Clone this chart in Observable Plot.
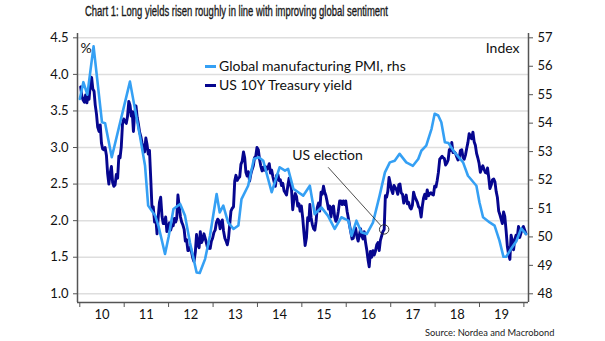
<!DOCTYPE html>
<html><head><meta charset="utf-8">
<script src="https://cdn.jsdelivr.net/npm/d3@7"></script>
<script src="https://cdn.jsdelivr.net/npm/@observablehq/plot@0.6"></script>
<style>
body{margin:0;background:#fff;}
#wrap{position:relative;width:605px;height:341px;overflow:hidden;font-family:Lato,"Open Sans",sans-serif;color:#111;}
#chart{position:absolute;left:0;top:0;}
#title{position:absolute;left:85px;top:3px;font-family:"Liberation Sans Narrow","Arial Narrow",sans-serif;font-size:14px;line-height:16px;white-space:nowrap;transform-origin:0 50%;color:#1a1a1a;-webkit-text-stroke:0.35px #1a1a1a;}
#source{position:absolute;left:425px;top:327px;font-size:9.3px;line-height:12px;white-space:nowrap;color:#222;}
.leg{position:absolute;left:205px;font-size:14px;line-height:16px;white-space:nowrap;color:#111;}
.sw{display:inline-block;width:11px;height:3px;vertical-align:middle;margin-right:3px;position:relative;top:-1px;}
</style></head><body>
<div id="wrap">
<div id="chart"></div>
<div id="title">Chart 1: Long yields risen roughly in line with improving global sentiment</div>
<div class="leg" style="top:58px"><span class="sw" style="background:#35a0f4"></span>Global manufacturing PMI, rhs</div>
<div class="leg" style="top:77px"><span class="sw" style="background:#06068f"></span>US 10Y Treasury yield</div>
<div id="source">Source: Nordea and Macrobond</div>
</div>
<script>
// ---- data ----
// US 10Y Treasury yield, %, three readings per month (days 8, 18, 28)
const y2010 = [3.83,3.70,3.65, 3.62,3.72,3.61, 3.69,3.66,3.86, 3.96,3.80,3.77, 3.58,3.46,3.28, 3.22,3.31,3.06, 2.98,2.97,3.00, 2.89,2.64,2.50, 2.65,2.74,2.52, 2.47,2.49,2.63, 2.58,2.88,2.86, 3.01,3.32,3.39];
const y2011 = [3.36,3.33,3.42, 3.63,3.58,3.43, 3.49,3.22,3.47, 3.57,3.41,3.32, 3.21,3.15,3.06, 2.99,2.94,3.13, 3.04,2.91,2.96, 2.55,2.16,2.19, 1.98,2.04,1.82, 2.05,2.25,2.32, 2.06,1.96,1.96, 2.05,1.85,1.90];
const y2012 = [1.97,1.87,1.93, 1.93,2.03,1.98, 2.03,2.35,2.20, 2.05,1.98,1.94, 1.88,1.72,1.74, 1.59,1.60,1.64, 1.57,1.49,1.44, 1.57,1.81,1.67, 1.63,1.85,1.70, 1.74,1.82,1.76, 1.69,1.62,1.64, 1.62,1.72,1.76];
const y2013 = [1.84,1.87,1.97, 2.02,2.00,1.89, 1.96,2.01,1.86, 1.76,1.72,1.67, 1.76,1.95,2.13, 2.17,2.19,2.54, 2.62,2.55,2.58, 2.60,2.77,2.81, 2.94,2.86,2.66, 2.61,2.67,2.54, 2.64,2.70,2.75, 2.86,2.88,3.00];
const y2014 = [2.97,2.84,2.75, 2.68,2.73,2.69, 2.74,2.70,2.72, 2.78,2.65,2.69, 2.60,2.53,2.47, 2.62,2.63,2.55, 2.56,2.48,2.51, 2.41,2.38,2.35, 2.48,2.58,2.51, 2.43,2.15,2.29, 2.37,2.33,2.20, 2.23,2.13,2.20];
const y2015 = [2.04,1.84,1.66, 1.77,2.04,2.00, 2.22,2.04,1.95, 1.89,1.87,1.99, 2.18,2.24,2.13, 2.39,2.36,2.47, 2.39,2.34,2.26, 2.16,2.20,2.05, 2.18,2.20,2.05, 1.99,2.03,2.13, 2.27,2.27,2.22, 2.27,2.22,2.27];
const y2016 = [2.13,2.04,1.94, 1.84,1.75,1.76, 1.87,1.90,1.79, 1.72,1.80,1.89, 1.79,1.75,1.85, 1.70,1.60,1.47, 1.37,1.58,1.50, 1.59,1.53,1.58, 1.67,1.70,1.59, 1.73,1.79,1.85, 1.88,2.34,2.32, 2.40,2.59,2.51];
const y2017 = [2.42,2.37,2.48, 2.45,2.42,2.36, 2.49,2.50,2.38, 2.36,2.24,2.30, 2.35,2.23,2.25, 2.18,2.16,2.21, 2.39,2.33,2.29, 2.25,2.19,2.17, 2.05,2.20,2.31, 2.36,2.30,2.42, 2.34,2.37,2.38, 2.36,2.35,2.47];
const y2018 = [2.46,2.55,2.66, 2.84,2.86,2.88, 2.86,2.85,2.76, 2.79,2.83,2.97, 2.96,3.07,2.93, 2.94,2.92,2.87, 2.83,2.85,2.96, 2.97,2.87,2.84, 2.90,2.99,3.07, 3.19,3.15,3.12, 3.21,3.08,3.03, 2.92,2.86,2.79];
const y2019 = [2.66,2.71,2.75, 2.70,2.66,2.65, 2.72,2.59,2.44, 2.49,2.56,2.57, 2.53,2.40,2.32, 2.13,2.08,2.02, 1.96,2.12,2.06, 1.86,1.65,1.54, 1.47,1.80,1.72, 1.60,1.74,1.80, 1.78,1.92,1.77, 1.83,1.89,1.92];
const y2020 = [1.87,1.82];
const yieldYears = [2010,2011,2012,2013,2014,2015,2016,2017,2018,2019,2020];
const yieldByYear = [y2010,y2011,y2012,y2013,y2014,y2015,y2016,y2017,y2018,y2019,y2020];
const sampleDays = [8,18,28];

// Global manufacturing PMI (rhs): [decimal year, index]
const pmi = [[2010.00,54.85],[2010.08,55.44],[2010.17,55.0],[2010.31,56.7],[2010.50,54.03],[2010.57,54.0],[2010.72,52.8],
[2011.13,55.46],[2011.36,53.5],[2011.47,52.5],[2011.54,51.1],[2011.70,50.74],[2011.77,50.4],[2011.92,49.4],
[2012.00,50.0],[2012.11,50.98],[2012.26,51.16],[2012.37,50.74],[2012.48,49.8],[2012.63,48.75],[2012.70,48.73],[2012.82,49.22],[2012.93,50.04],
[2013.08,51.51],[2013.15,50.86],[2013.23,51.1],[2013.34,50.5],[2013.46,50.28],[2013.57,50.4],[2013.64,51.33],[2013.79,51.8],[2013.92,52.74],
[2014.03,52.8],[2014.13,52.68],[2014.32,51.57],[2014.50,52.45],[2014.62,52.33],[2014.69,52.39],[2014.81,51.69],[2014.92,51.57],
[2015.03,51.45],[2015.18,51.8],[2015.29,50.8],[2015.44,51.04],[2015.59,50.74],[2015.74,50.28],[2015.89,50.69],
[2016.05,50.57],[2016.12,50.04],[2016.23,50.57],[2016.34,50.16],[2016.46,50.1],[2016.60,50.5],[2016.75,51.45],[2016.87,52.27],[2016.98,52.62],
[2017.09,52.68],[2017.20,52.92],[2017.35,52.62],[2017.50,52.5],[2017.62,52.74],[2017.69,53.03],[2017.80,53.21],[2017.92,53.8],[2017.99,54.33],
[2018.07,54.27],[2018.14,54.03],[2018.22,53.33],[2018.30,53.3],[2018.44,52.97],[2018.63,52.62],[2018.74,52.15],[2018.93,51.8],
[2019.00,51.21],[2019.08,50.69],[2019.23,50.51],[2019.34,50.4],[2019.45,49.87],[2019.54,49.3],[2019.60,49.3],[2019.72,49.6],[2019.83,49.85],[2019.94,50.3],[2020.05,50.1]];

// ticks and labels
const leftTicks = [1.0,1.5,2.0,2.5,3.0,3.5,4.0,4.5];
const rightTicks = [48,49,50,51,52,53,54,55,56,57];
const xYears = [2010,2011,2012,2013,2014,2015,2016,2017,2018,2019,2020];
const xLabels = ["10","11","12","13","14","15","16","17","18","19"];

// annotation
const electionPoint = [{date:"2016-11-08", v:1.88}];
const electionLabel = [{date:"2015-07-31", v:2.89, text:"US election"}];
const electionLink = [{d1:"2015-08-05", v1:2.73, d2:"2016-10-13", v2:1.93}];

// ---- build ----
const navy = "#06068f", sky = "#35a0f4";
const U = s => new Date(s + "T00:00:00Z");
const fromDecimal = y => { const yr = Math.floor(y + 1e-9); const a = Date.UTC(yr,0,1), b = Date.UTC(yr+1,0,1); return new Date(a + (y - yr) * (b - a)); };
// right axis (48..57) maps onto left axis (1.0..4.5)
const toLeft = r => 1 + (r - 48) * 3.5 / 9;

const yieldData = [];
yieldByYear.forEach((arr, yi) => arr.forEach((v, k) => {
  yieldData.push({date: new Date(Date.UTC(yieldYears[yi], Math.floor(k/3), sampleDays[k%3])), v});
}));
const pmiData = pmi.map(([t, v]) => ({date: fromDecimal(t), v}));

const yearTicks = xYears.map(y => new Date(Date.UTC(y,0,1)));
const midTicks = xLabels.map((l, i) => new Date(Date.UTC(xYears[i],6,2)));
const rightPos = rightTicks.map(toLeft);

const x0 = new Date(Date.UTC(2009,11,13)), x1 = new Date(Date.UTC(2020,1,8));
const yMin = 0.881, yMax = 4.559;
const axisColor = "#555";

const chart = Plot.plot({
  width: 605, height: 341,
  marginLeft: 77, marginRight: 77, marginTop: 33, marginBottom: 39,
  style: {fontFamily: "Lato, 'Open Sans', sans-serif", fontSize: "13px", color: "#111", background: "transparent"},
  x: {type: "utc", domain: [x0, x1]},
  y: {domain: [yMin, yMax]},
  marks: [
    Plot.gridY(leftTicks, {stroke: "#dedede", strokeOpacity: 1, strokeWidth: 1.5}),
    Plot.axisY(leftTicks, {anchor: "left", tickSize: 4, tickPadding: 5, stroke: axisColor, tickFormat: d => d.toFixed(1), label: null, fontSize: 13}),
    Plot.axisY(rightPos, {anchor: "right", tickSize: 4, tickPadding: 5, stroke: axisColor, tickFormat: d => rightTicks[rightPos.findIndex(p => Math.abs(p - d) < 1e-9)], label: null, fontSize: 13}),
    Plot.axisX(yearTicks, {tickSize: 5, stroke: axisColor, tickFormat: () => "", label: null}),
    Plot.axisX(midTicks, {tickSize: 0, tickPadding: 7, tickFormat: d => xLabels[midTicks.findIndex(m => +m === +d)], label: null, fontSize: 13}),
    Plot.ruleX([x0, x1], {stroke: axisColor, strokeWidth: 1.5}),
    Plot.ruleY([yMin], {stroke: axisColor, strokeWidth: 1.5}),
    Plot.line(yieldData, {x: "date", y: "v", stroke: navy, strokeWidth: 2.9}),
    Plot.line(pmiData, {x: "date", y: d => toLeft(d.v), stroke: sky, strokeWidth: 2.6}),
    Plot.text(["%"], {frameAnchor: "top-left", dx: 3, dy: 15, textAnchor: "start", lineAnchor: "middle", fontSize: 14}),
    Plot.text(["Index"], {frameAnchor: "top-right", dx: -9, dy: 15, textAnchor: "end", lineAnchor: "middle", fontSize: 14}),
    Plot.link(electionLink, {x1: d => U(d.d1), y1: "v1", x2: d => U(d.d2), y2: "v2", stroke: "#222", strokeWidth: 0.8}),
    Plot.dot(electionPoint, {x: d => U(d.date), y: "v", r: 4.7, stroke: "#222", strokeWidth: 0.9, fill: "none"}),
    Plot.text(electionLabel, {x: d => U(d.date), y: "v", text: "text", fontSize: 14, textAnchor: "middle"})
  ]
});
document.getElementById("chart").appendChild(chart);

// fit the condensed title to the reference width
const t = document.getElementById("title");
const w = t.getBoundingClientRect().width;
if (w > 0) t.style.transform = `scaleX(${303 / w})`;
</script>
</body></html>
